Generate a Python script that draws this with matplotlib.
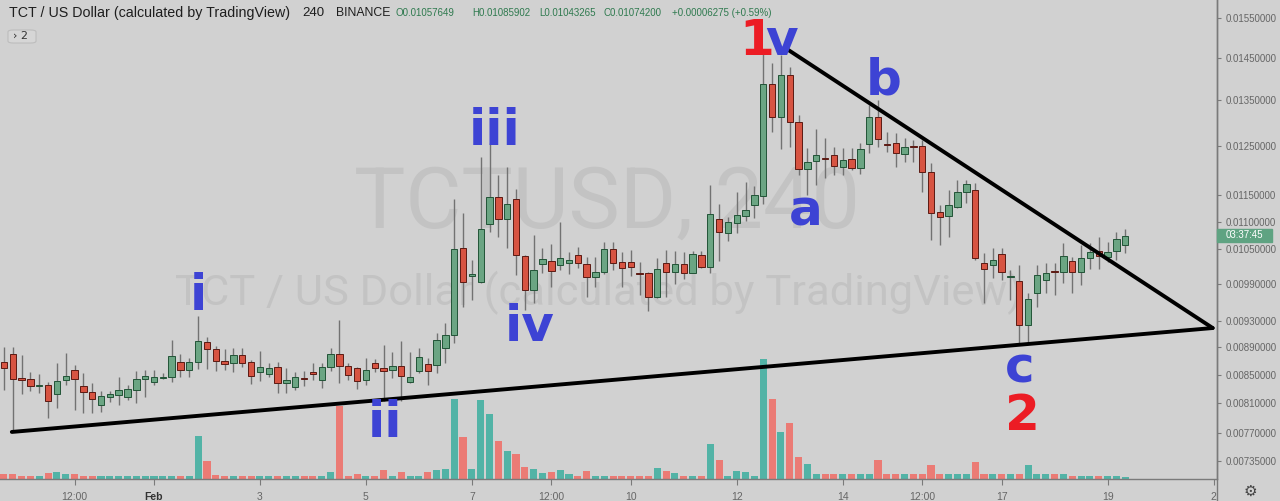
import numpy as np
import matplotlib
matplotlib.use("Agg")
import matplotlib.pyplot as plt
from matplotlib.lines import Line2D
from matplotlib.patches import Rectangle, FancyBboxPatch
from matplotlib.ticker import FixedLocator, NullLocator, FuncFormatter

# TCT / USD, 4h candles. bar 0 = Feb 1 00:00, prices in 1e-6 USD
bars = np.arange(-17, 111)
opens = [8682, 8800, 8451, 8436, 8338, 8352, 8226, 8422, 8566, 8338,
         8254, 8075, 8185, 8213, 8185, 8282, 8436, 8394, 8451, 8465,
         8682, 8566, 8682, 8980, 8874, 8697, 8668, 8785, 8682, 8537,
         8508, 8610, 8380, 8324, 8451, 8537, 8422, 8610, 8800, 8624,
         8595, 8422, 8668, 8595, 8566, 8624, 8394, 8552, 8653, 8639,
         8889, 9087, 10522, 10037, 9936, 10956, 11467, 11049, 11428, 10381,
         9802, 10242, 10294, 10225, 10259, 10399, 10242, 10020, 10105, 10504,
         10277, 10277, 10088, 10088, 9688, 10259, 10105, 10242, 10088, 10399,
         10191, 11049, 10792, 10975, 11105, 11314, 11487, 13874, 13124, 14087,
         13013, 12021, 12185, 12246, 12309, 12062, 12225, 12042, 12539, 13124,
         12539, 12560, 12329, 12497, 12497, 11961, 11180, 11105, 11275, 11564,
         11603, 10259, 10225, 10416, 10020, 9952, 9241, 9753, 9969, 10122,
         10105, 10294, 10105, 10346, 10469, 10364, 10469, 10576]
highs = [8904, 8904, 8785, 8537, 8508, 8394, 8668, 8815, 8639, 8523,
         8380, 8268, 8268, 8465, 8352, 8552, 8566, 8566, 8523, 9010,
         8800, 8741, 9382, 9056, 8919, 8874, 8889, 8889, 8711, 8844,
         8668, 8682, 8595, 8537, 8552, 8668, 8668, 8889, 9319, 8668,
         8610, 8741, 8726, 8935, 8829, 8995, 8829, 8889, 8741, 9117,
         9272, 11428, 11162, 10311, 12267, 12560, 11901, 12062, 11623, 10399,
         10756, 10522, 10593, 10993, 10451, 10540, 10364, 10364, 10629, 10629,
         10451, 10486, 10277, 10105, 10346, 10486, 10469, 10451, 10469, 10469,
         11702, 11333, 11086, 11564, 11761, 11682, 14619, 14375, 14570, 14278,
         13168, 12454, 12860, 12667, 12476, 12454, 12454, 12560, 13392, 13505,
         12795, 12774, 12667, 12624, 12624, 12144, 11314, 11603, 11800, 11800,
         11741, 10434, 10522, 10522, 10139, 10225, 9753, 10225, 10259, 10259,
         10611, 10364, 10576, 10611, 10719, 10629, 10810, 10859]
lows = [8282, 7716, 8226, 8268, 8240, 7900, 8034, 8352, 8007, 7967,
        7967, 7980, 8116, 8075, 8143, 8102, 8185, 8352, 8436, 8394,
        8465, 8465, 8581, 8581, 8552, 8566, 8537, 8610, 8366, 8408,
        8465, 8240, 8240, 8282, 8338, 8422, 8310, 8552, 8380, 8422,
        8296, 8352, 8537, 8129, 8451, 8129, 8380, 8523, 8352, 8523,
        8668, 8965, 9526, 9639, 9920, 10810, 10719, 10522, 10054, 9477,
        9590, 10088, 9852, 10139, 10071, 10173, 9688, 9852, 10071, 10139,
        9852, 10037, 9721, 9461, 9672, 9688, 9902, 9986, 10088, 10173,
        10088, 10294, 10647, 10792, 11012, 11068, 11333, 12795, 12433, 12476,
        11901, 11506, 11702, 11840, 11901, 11901, 12001, 11921, 12350, 12476,
        12371, 12062, 12164, 12164, 11564, 10665, 10576, 10719, 11256, 11352,
        10311, 9590, 10003, 9969, 9639, 8965, 8965, 9526, 9753, 9721,
        9919, 9753, 9886, 10156, 10156, 10277, 10311, 10433]
closes = [8595, 8436, 8422, 8338, 8352, 8129, 8408, 8480, 8436, 8254,
          8157, 8199, 8226, 8282, 8296, 8436, 8480, 8465, 8465, 8770,
          8566, 8682, 8995, 8874, 8697, 8653, 8785, 8668, 8480, 8610,
          8595, 8380, 8422, 8465, 8436, 8508, 8610, 8800, 8624, 8494,
          8408, 8566, 8595, 8552, 8624, 8480, 8465, 8755, 8552, 9010,
          9087, 10504, 9936, 10071, 10864, 11467, 11049, 11333, 10399, 9802,
          10139, 10329, 10122, 10346, 10311, 10259, 10020, 10105, 10504, 10259,
          10173, 10191, 10071, 9688, 10156, 10105, 10242, 10088, 10416, 10191,
          11143, 10810, 10993, 11124, 11218, 11506, 13874, 13124, 14087, 13013,
          12021, 12164, 12309, 12225, 12083, 12205, 12042, 12433, 13124, 12645,
          12518, 12350, 12476, 12476, 11961, 11162, 11086, 11314, 11564, 11721,
          10346, 10156, 10311, 10105, 10037, 9241, 9655, 10054, 10088, 10105,
          10381, 10105, 10346, 10451, 10381, 10451, 10683, 10742]
volume = [5, 5, 3, 3, 3, 6, 7, 5, 5, 3,
          3, 3, 3, 3, 3, 3, 3, 3, 3, 3,
          3, 3, 43, 18, 4, 3, 3, 3, 3, 3,
          3, 3, 3, 3, 3, 3, 3, 7, 73, 3,
          5, 3, 3, 9, 3, 7, 3, 3, 7, 9,
          10, 80, 42, 10, 79, 65, 38, 28, 25, 12,
          10, 6, 7, 9, 5, 3, 8, 3, 3, 3,
          3, 3, 3, 3, 11, 8, 6, 3, 3, 3,
          35, 19, 3, 8, 7, 3, 120, 80, 47, 56,
          22, 15, 5, 5, 5, 5, 5, 5, 5, 19,
          5, 5, 5, 5, 5, 14, 5, 5, 5, 5,
          17, 5, 5, 5, 5, 5, 14, 5, 5, 5,
          5, 3, 3, 3, 3, 3, 3, 2]

price_ticks = [0.0155, 0.0145, 0.0135, 0.0125, 0.0115, 0.0110, 0.0105,
               0.0099, 0.0093, 0.0089, 0.0085, 0.0081, 0.0077, 0.00735]
time_ticks = [-9, 0, 12, 24, 36, 45, 54, 66, 78, 87, 96, 108, 120]
time_labels = ["12:00", "Feb", "3", "5", "7", "12:00", "10", "12", "14",
               "12:00", "17", "19", "2"]

BLUE = "#3d43d4"
RED = "#ec1c24"
# wave count labels: text, bar, baseline price, colour
waves = [("i", 5.0, 0.009477, BLUE), ("ii", 26.2, 0.007651, BLUE),
         ("iii", 38.6, 0.012518, BLUE), ("iv", 42.5, 0.008995, BLUE),
         ("1", 68.3, 0.014570, RED), ("v", 71.1, 0.014570, BLUE),
         ("a", 73.8, 0.010938, BLUE), ("b", 82.6, 0.013620, BLUE),
         ("c", 98.1, 0.008380, BLUE), ("2", 98.4, 0.007742, RED)]
support = ([-16.1, 119.9], [0.007716, 0.009194])
resistance = ([71.5, 119.9], [0.014743, 0.009194])

BG = "#d1d1d1"
UP, UP_EDGE = "#6ba583", "#225437"
DN, DN_EDGE = "#d75442", "#5b1a13"
VOL_UP, VOL_DN = "#52b3a6", "#eb7b75"

o = np.array(opens) * 1e-6
h = np.array(highs) * 1e-6
l = np.array(lows) * 1e-6
c = np.array(closes) * 1e-6
up = c >= o

fig = plt.figure(figsize=(12.8, 5.01), dpi=100, facecolor=BG)
W, H = 1280, 501
rect = [0, 22 / H, 1217 / W, 479 / H]

axv = fig.add_axes(rect, facecolor=BG)
axv.bar(bars, volume, width=0.8, color=np.where(up, VOL_UP, VOL_DN), linewidth=0)
axv.set_ylim(0, 479)
axv.set_xlim(-17.44, 120.39)
axv.axis("off")

ax = fig.add_axes(rect, sharex=axv)
ax.patch.set_alpha(0)
ax.set_yscale("log")
ax.set_ylim(0.0071274, 0.015986)
ax.set_xlim(-17.44, 120.39)

# watermark
ax.text(0.499, 0.524, "TCTUSD, 240", transform=ax.transAxes, ha="center",
        va="baseline", fontsize=62, family="Roboto", color="#c3c3c3", zorder=0)
ax.text(0.492, 0.363, "TCT / US Dollar (calculated by TradingView)",
        transform=ax.transAxes, ha="center", va="baseline", fontsize=31.3,
        family="Roboto", color="#c3c3c3", zorder=0)

ax.vlines(bars, l, h, color="#727272", lw=1, zorder=2)
ax.bar(bars, np.abs(c - o), bottom=np.minimum(o, c), width=0.72,
       color=np.where(up, UP, DN), edgecolor=np.where(up, UP_EDGE, DN_EDGE),
       linewidth=0.7, zorder=3)

for xs, ys in (support, resistance):
    ax.plot(xs, ys, color="black", lw=2.8, solid_capstyle="round", zorder=5)

for txt, x, y, col in waves:
    ax.text(x, y, txt, color=col, fontsize=36, fontweight="bold",
            family="DejaVu Sans", ha="center", va="baseline", zorder=6)

# axes styling
for s in ("top", "left"):
    ax.spines[s].set_visible(False)
for s in ("right", "bottom"):
    ax.spines[s].set_color("#7a7a7a")
    ax.spines[s].set_linewidth(1)
ax.yaxis.tick_right()
ax.yaxis.set_major_locator(FixedLocator(price_ticks))
ax.yaxis.set_minor_locator(NullLocator())
ax.yaxis.set_major_formatter(FuncFormatter(lambda v, p: f"{v:.8f}"))
ax.tick_params(axis="y", which="major", length=3, width=0.8, color="#7a7a7a",
               labelsize=7, labelcolor="#666666", pad=3)
ax.set_xticks(time_ticks)
ax.set_xticklabels(time_labels)
ax.tick_params(axis="x", length=4, width=0.8, color="#7a7a7a", labelsize=7.5,
               labelcolor="#666666", pad=5)
for lab in ax.get_xticklabels():
    lab.set_family("Liberation Sans")
    if lab.get_text() == "Feb":
        lab.set_fontweight("bold")
        lab.set_color("#333333")
for lab in ax.get_yticklabels():
    lab.set_family("Liberation Sans")

fig.add_artist(Line2D([1217 / W] * 2, [0, 1], transform=fig.transFigure,
                      color="#7a7a7a", lw=1))

# countdown tag on price scale
fig.add_artist(Rectangle((1217 / W, 1 - 242 / H), 55 / W, 13 / H,
                         transform=fig.transFigure, color="#5fa382", zorder=10))
fig.text(1244 / W, 1 - 235.5 / H, "03:37:45", color="white", fontsize=7,
         family="Liberation Sans", ha="center", va="center", zorder=11)
fig.text(1250 / W, 1 - 491 / H, "\u2699", color="#444444", fontsize=11,
         ha="center", va="center")

# header
fig.text(9 / W, 1 - 13 / H, "TCT / US Dollar (calculated by TradingView)",
         color="#1e1e1e", fontsize=10.3, family="Liberation Sans", va="center")
fig.text(302 / W, 1 - 13 / H, "240", color="#1e1e1e", fontsize=9.5,
         family="Liberation Sans", va="center")
fig.text(336 / W, 1 - 13 / H, "BINANCE", color="#1e1e1e", fontsize=8.8,
         family="Liberation Sans", va="center")
ohlc = [("O0.01057649", 396), ("H0.01085902", 472), ("L0.01043265", 539),
        ("C0.01074200", 604), ("+0.00006275 (+0.59%)", 672)]
for txt, x in ohlc:
    fig.text(x / W, 1 - 13 / H, txt, color="#2f7a4f", fontsize=7.0,
             family="Liberation Sans", va="center")
fig.add_artist(FancyBboxPatch((8 / W, 1 - 43 / H), 28 / W, 13 / H,
                              boxstyle="round,pad=0,rounding_size=0.004",
                              transform=fig.transFigure, fc="#d6d6d6",
                              ec="#bdbdbd", lw=0.8))
fig.text(13 / W, 1 - 36 / H, "\u203a 2", color="#333333", fontsize=8,
         family="DejaVu Sans", va="center")

fig.savefig("out.png", dpi=100, facecolor=BG)
